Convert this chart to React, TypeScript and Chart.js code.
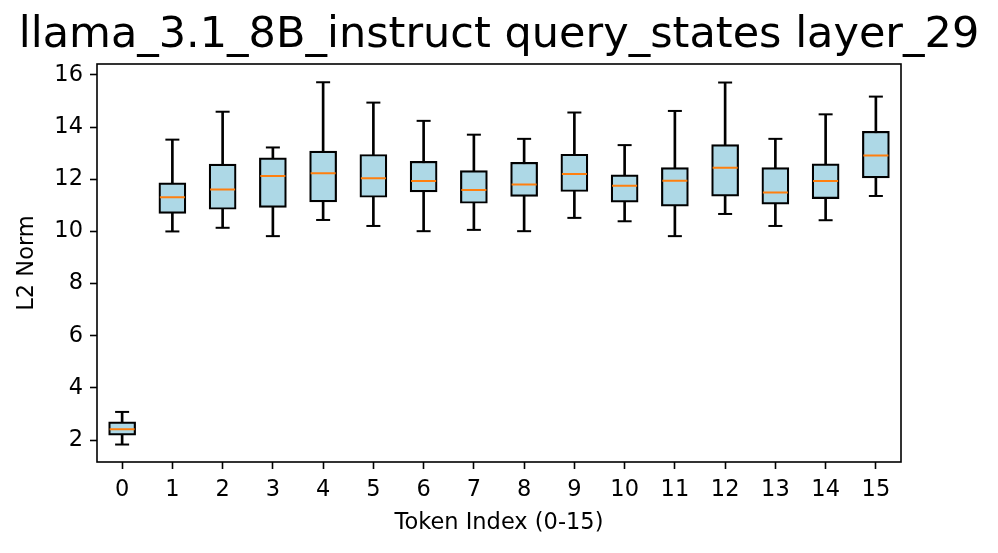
import React, { useEffect, useRef } from "react";
import { Chart, registerables } from "chart.js";

Chart.register(...registerables);

const tokenLabels = ["0", "1", "2", "3", "4", "5", "6", "7", "8", "9", "10", "11", "12", "13", "14", "15"];
const whiskerLow = [1.83, 10.0, 10.14, 9.82, 10.44, 10.21, 10.01, 10.06, 10.01, 10.52, 10.39, 9.82, 10.67, 10.21, 10.43, 11.36];
const q1 = [2.19, 10.69, 10.85, 10.92, 11.13, 11.31, 11.52, 11.08, 11.34, 11.53, 11.12, 10.97, 11.35, 11.05, 11.26, 12.05];
const medians = [2.42, 11.31, 11.61, 12.13, 12.23, 12.04, 11.93, 11.59, 11.8, 12.2, 11.75, 11.94, 12.44, 11.49, 11.93, 12.91];
const q3 = [2.7, 11.86, 12.58, 12.82, 13.08, 12.95, 12.69, 12.33, 12.65, 12.96, 12.17, 12.45, 13.33, 12.45, 12.59, 13.84];
const whiskerHigh = [3.08, 13.52, 14.59, 13.22, 15.72, 14.94, 14.24, 13.71, 13.55, 14.56, 13.31, 14.62, 15.71, 13.55, 14.49, 15.17];
const yTicks = [2, 4, 6, 8, 10, 12, 14, 16];

const titleText = "llama_3.1_8B_instruct query_states layer_29";
const xTitle = "Token Index (0-15)";
const yTitle = "L2 Norm";

export default function App() {
  const ref = useRef<HTMLCanvasElement>(null);

  useEffect(() => {
    document.body.style.margin = "0";
    Chart.defaults.font.family = "'DejaVu Sans', sans-serif";
    const frame = {
      id: "frame",
      afterDatasetsDraw(chart: any) {
        const { ctx, chartArea: a } = chart;
        ctx.save();
        ctx.strokeStyle = "#000";
        ctx.lineWidth = 1.6;
        ctx.strokeRect(a.left, a.top, a.right - a.left, a.bottom - a.top);
        ctx.restore();
      },
    };
    const tickFont = { family: "'DejaVu Sans', sans-serif", size: 22.5, lineHeight: 1.2 };
    const gridOpts = {
      display: true,
      offset: false,
      drawOnChartArea: false,
      drawTicks: true,
      tickLength: 7,
      tickWidth: 1.6,
      tickColor: "#000",
    };
    const chart = new Chart(ref.current as HTMLCanvasElement, {
      type: "bar",
      data: {
        labels: tokenLabels,
        datasets: [
          {
            type: "bar",
            data: tokenLabels.map((_, i) => [whiskerLow[i], whiskerHigh[i]]),
            backgroundColor: "#000",
            borderWidth: 0,
            barThickness: 2,
            grouped: false,
            order: 3,
          } as any,
          {
            type: "bar",
            data: tokenLabels.map((_, i) => [q1[i], q3[i]]),
            backgroundColor: "#add8e6",
            borderColor: "#000",
            borderWidth: 2.2,
            borderSkipped: false,
            barThickness: 27,
            grouped: false,
            order: 2,
          } as any,
          {
            type: "line",
            data: whiskerLow,
            showLine: false,
            pointStyle: "line",
            pointRadius: 7,
            pointBorderColor: "#000",
            pointBorderWidth: 2,
            order: 1,
          } as any,
          {
            type: "line",
            data: whiskerHigh,
            showLine: false,
            pointStyle: "line",
            pointRadius: 7,
            pointBorderColor: "#000",
            pointBorderWidth: 2,
            order: 1,
          } as any,
          {
            type: "line",
            data: medians,
            showLine: false,
            pointStyle: "line",
            pointRadius: 12.5,
            pointBorderColor: "#ff7f0e",
            pointBorderWidth: 2,
            order: 0,
          } as any,
        ],
      },
      options: {
        responsive: false,
        animation: false,
        devicePixelRatio: 1,
        events: [],
        layout: { padding: 0 },
        plugins: {
          legend: { display: false },
          tooltip: { enabled: false },
          title: {
            display: true,
            text: titleText,
            color: "#000",
            font: { family: "'DejaVu Sans', sans-serif", size: 43, weight: "normal", lineHeight: 1 },
            padding: { top: 14, bottom: 7 },
          },
        },
        scales: {
          x: {
            type: "category",
            offset: true,
            grid: gridOpts,
            border: { display: false },
            ticks: { color: "#000", font: tickFont, padding: 8, maxRotation: 0, autoSkip: false },
            title: {
              display: true,
              text: xTitle,
              color: "#000",
              font: tickFont,
              padding: { top: 0, bottom: 16 },
            },
            afterFit: (s: any) => {
              s.height = 91;
            },
          },
          y: {
            type: "linear",
            position: "left",
            min: 1.16,
            max: 16.42,
            grid: gridOpts,
            border: { display: false },
            ticks: { color: "#000", font: tickFont, padding: 7, includeBounds: false },
            afterBuildTicks: (axis: any) => {
              axis.ticks = yTicks.map((v) => ({ value: v }));
            },
            title: {
              display: true,
              text: yTitle,
              color: "#000",
              font: tickFont,
              padding: { top: 14, bottom: 0 },
            },
            afterFit: (s: any) => {
              s.width = 97;
            },
          },
          yRight: {
            type: "linear",
            position: "right",
            display: true,
            grid: { display: false, drawTicks: false },
            border: { display: false },
            ticks: { display: false },
            afterFit: (s: any) => {
              s.width = 97;
            },
          },
        },
      } as any,
      plugins: [frame],
    });
    return () => chart.destroy();
  }, []);

  return (
    <div style={{ position: "fixed", left: 0, top: 0, width: 998, height: 553, background: "#fff" }}>
      <canvas ref={ref} width={998} height={553} style={{ width: 998, height: 553, display: "block" }} />
    </div>
  );
}
